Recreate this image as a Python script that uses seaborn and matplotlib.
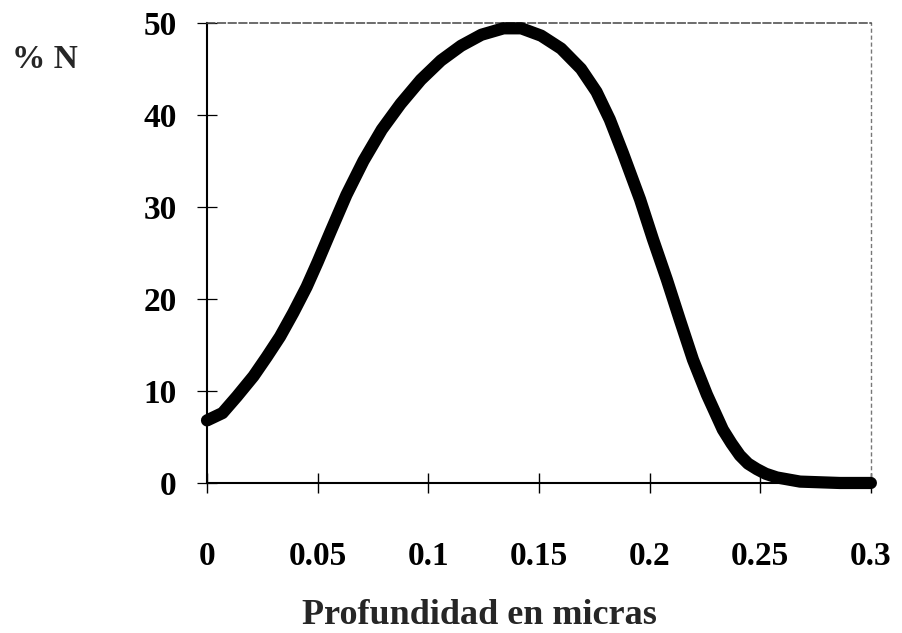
import matplotlib
matplotlib.use('Agg')
import matplotlib.pyplot as plt
import seaborn as sns
import pandas as pd

# Perfil de nitrógeno
depth = [0.000, 0.007, 0.0135, 0.021, 0.027, 0.033, 0.039, 0.045, 0.050, 0.056,
         0.063, 0.0707, 0.079, 0.0875, 0.0966, 0.1057, 0.1148, 0.124, 0.134, 0.142,
         0.151, 0.160, 0.169, 0.176, 0.182, 0.188, 0.1957, 0.2015, 0.2078, 0.2137,
         0.2196, 0.2259, 0.2331, 0.237, 0.2408, 0.2445, 0.2485, 0.2525, 0.2575,
         0.268, 0.286, 0.300]
nitrogen = [6.8, 7.6, 9.4, 11.6, 13.7, 15.9, 18.5, 21.3, 24.0, 27.4,
            31.3, 35.0, 38.4, 41.2, 43.8, 45.9, 47.5, 48.7, 49.4, 49.4,
            48.6, 47.2, 45.0, 42.5, 39.5, 35.8, 30.8, 26.5, 22.1, 17.7,
            13.4, 9.6, 5.8, 4.3, 3.0, 2.1, 1.5, 1.0, 0.6,
            0.15, 0.0, 0.0]

x_ticks = [0, 0.05, 0.1, 0.15, 0.2, 0.25, 0.3]
x_tick_labels = ['0', '0.05', '0.1', '0.15', '0.2', '0.25', '0.3']
y_ticks = [0, 10, 20, 30, 40, 50]

df = pd.DataFrame({'depth': depth, 'nitrogen': nitrogen})

sns.set_style('white')
plt.rcParams['font.family'] = ['Liberation Serif', 'DejaVu Serif']
plt.rcParams['font.weight'] = 'bold'

fig = plt.figure(figsize=(9.02, 6.33), dpi=100)
ax = fig.add_axes([0.2295, 0.237, 0.736, 0.727])

sns.lineplot(data=df, x='depth', y='nitrogen', ax=ax, color='black',
             linewidth=8.8, solid_capstyle='round', solid_joinstyle='round',
             clip_on=False, zorder=3)

ax.set_xlim(0, 0.3)
ax.set_ylim(0, 50)
ax.set_xticks(x_ticks)
ax.set_xticklabels(x_tick_labels)
ax.set_yticks(y_ticks)
ax.set_ylabel('')
ax.set_xlabel('Profundidad en micras', fontsize=26, fontweight='bold', va='top')
ax.xaxis.set_label_coords(0.411, -0.252)

# marco: ejes izquierdo e inferior sólidos, superior y derecho punteados
for side in ['left', 'bottom']:
    ax.spines[side].set_color('black')
    ax.spines[side].set_linewidth(1.5)
ax.spines['top'].set_color('#444444')
ax.spines['top'].set_linewidth(1.1)
ax.spines['top'].set_linestyle((0, (5, 2)))
ax.spines['right'].set_color('#777777')
ax.spines['right'].set_linewidth(1.0)
ax.spines['right'].set_linestyle((0, (2, 3)))

ax.tick_params(axis='x', bottom=True, direction='inout', length=14, width=1.0,
               pad=35, labelsize=24, colors='black')
ax.tick_params(axis='y', left=True, direction='inout', length=14, width=0.9,
               pad=15, labelsize=24, colors='black')

fig.text(0.013, 0.893, '% N', fontsize=24, fontweight='bold')

fig.savefig('out.png', dpi=100)
